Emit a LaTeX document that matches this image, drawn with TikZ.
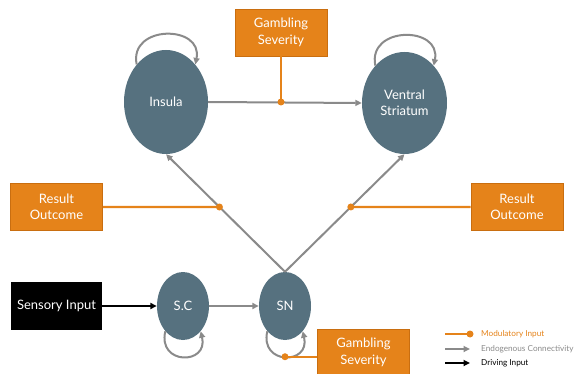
\documentclass[tikz,border=0pt]{standalone}
\usepackage{fontspec}
\setmainfont{Lato}
\usetikzlibrary{shapes.geometric,arrows.meta,calc}
\definecolor{slate}{HTML}{56717F}
\definecolor{orng}{HTML}{E5831A}
\definecolor{orngdk}{HTML}{C96E10}
\definecolor{grayarr}{HTML}{8A8A8A}
\begin{document}
\begin{tikzpicture}[x=1pt,y=-1pt,
  region/.style={ellipse, fill=slate, text=white, inner sep=0pt, align=center,
    font=\fontsize{13}{15.5}\selectfont},
  obox/.style={rectangle, fill=orng, draw=orngdk, line width=0.6pt, text=white,
    minimum width=92pt, minimum height=47pt, align=center, inner sep=0pt,
    font=\fontsize{13}{16.5}\selectfont},
  sbox/.style={rectangle, fill=black, text=white, minimum width=91pt,
    minimum height=48pt, inner sep=0pt, font=\fontsize{13}{15.5}\selectfont},
  endo/.style={draw=grayarr, line width=2pt, -{Triangle[length=6.5pt,width=6pt]}},
  drv/.style={draw=black, line width=2pt, -{Triangle[length=6.5pt,width=6pt]}},
  modl/.style={draw=orng, line width=2.2pt},
  mdot/.style={circle, fill=orng, inner sep=0pt, minimum size=7pt},
  legtext/.style={anchor=west, inner sep=0pt, font=\fontsize{8.2}{9}\selectfont}
]
\useasboundingbox (0,0) rectangle (578,374);

% regions
\node[region, minimum width=84pt, minimum height=104pt] (ins) at (166,102) {Insula};
\node[region, minimum width=85pt, minimum height=102pt] (vs) at (404.5,103) {Ventral\\Striatum};
\node[region, minimum width=52pt, minimum height=68pt] (sc) at (183,306) {S.C};
\node[region, minimum width=52pt, minimum height=68pt] (sn) at (285,306) {SN};

% boxes
\node[obox] (gs1) at (281,32.5) {Gambling\\Severity};
\node[obox] (ro1) at (56.5,207) {Result\\Outcome};
\node[obox] (ro2) at (517,207) {Result\\Outcome};
\node[obox] (gs2) at (363.5,352.5) {Gambling\\Severity};
\node[sbox] (si) at (56.5,306) {Sensory Input};

% self loops
\draw[endo] (ins.128) .. controls +(-8,-40) and +(8,-40) .. (ins.52);
\draw[endo] (vs.128) .. controls +(-8,-40) and +(8,-40) .. (vs.52);
\draw[endo] (sc.-125) .. controls +(-8,34) and +(8,34) .. (sc.-55);
\draw[endo] (sn.-125) .. controls +(-8,34) and +(8,34) .. coordinate[pos=0.5] (snl) (sn.-55);

% connections
\draw[endo] (ins.east) -- (vs.west);
\draw[endo] (sn.north) -- (ins.south);
\draw[endo] (sn.north) -- (vs.south);
\draw[endo] (sc.east) -- (sn.west);
\draw[drv] (si.east) -- (sc.west);

% modulatory inputs
\coordinate (dt) at (gs1.south |- ins.east);
\coordinate (dl) at (intersection of sn.north--ins.south and ro1.east--ro2.west);
\coordinate (dr) at (intersection of sn.north--vs.south and ro1.east--ro2.west);
\draw[modl] (gs1.south) -- (dt);
\draw[modl] (ro1.east) -- (dl);
\draw[modl] (ro2.west) -- (dr);
\draw[modl] (snl) -- (snl -| gs2.west);
\node[mdot] (mt) at (dt) {};
\node[mdot] (ml) at (dl) {};
\node[mdot] (mr) at (dr) {};
\node[mdot] (ms) at (snl) {};

% legend
\coordinate (l1a) at (445,334); \coordinate (l1b) at (470,334);
\coordinate (l2a) at (445,349); \coordinate (l2b) at (470,349);
\coordinate (l3a) at (445,363); \coordinate (l3b) at (470,363);
\draw[modl] (l1a) -- (l1b);
\node[mdot] (ld) at (l1b) {};
\draw[endo] (l2a) -- (l2b);
\draw[drv] (l3a) -- (l3b);
\node[legtext, text=orng] (lt1) at (481,334) {Modulatory Input};
\node[legtext, text=grayarr] (lt2) at (481,349) {Endogenous Connectivity};
\node[legtext, text=black] (lt3) at (481,363) {Driving Input};
\end{tikzpicture}
\end{document}
